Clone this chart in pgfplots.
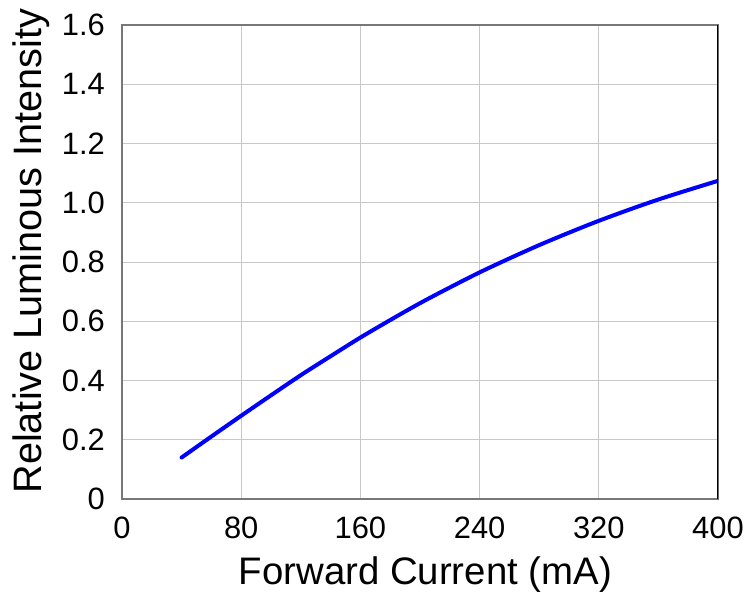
\documentclass[border=0pt]{standalone}
\usepackage{fontspec}
\setmainfont{Liberation Sans}
\usepackage{pgfplots}
\pgfplotsset{compat=1.18}

\definecolor{gridgray}{RGB}{200,200,200}
\definecolor{framegray}{RGB}{120,120,120}
\definecolor{curveblue}{RGB}{0,0,255}

\begin{document}
\begin{tikzpicture}
\begin{axis}[
  scale only axis,
  width=596bp, height=474bp,
  xmin=0, xmax=400,
  ymin=0, ymax=1.6,
  xtick={0,80,160,240,320,400},
  xticklabels={0,80,160,240,320,400},
  ytick={0,0.2,0.4,0.6,0.8,1.0,1.2,1.4,1.6},
  yticklabels={0,0.2,0.4,0.6,0.8,1.0,1.2,1.4,1.6},
  major tick length=0pt,
  grid=major,
  major grid style={gridgray, line width=0.9bp},
  axis line style={framegray, line width=1.3bp},
  tick label style={font=\fontsize{31}{36}\selectfont},
  yticklabel style={anchor=east, inner sep=0pt, xshift=-17bp},
  xticklabel style={anchor=north, inner sep=0pt, yshift=-18bp},
  xlabel={Forward Current (mA)},
  ylabel={Relative Luminous Intensity},
  xlabel style={font=\fontsize{38.5}{44}\selectfont, at={(axis description cs:0.509,0)}, anchor=base, inner sep=0pt, yshift=-85bp},
  ylabel style={font=\fontsize{39.8}{45}\selectfont, at={(axis description cs:0,0.523)}, anchor=base, inner sep=0pt, yshift=80bp},
]
\addplot[curveblue, line width=4bp, smooth, line cap=round] coordinates {
  (40,0.140) (60,0.211) (80,0.281) (100,0.350) (120,0.418) (140,0.482)
  (160,0.545) (180,0.604) (200,0.661) (220,0.714) (240,0.765) (260,0.812)
  (280,0.857) (300,0.899) (320,0.939) (340,0.976) (360,1.011) (380,1.043)
  (400,1.074)
};
\draw[black, line width=1.3bp] (rel axis cs:1,0) -- (rel axis cs:1,1);
\end{axis}
\pgfresetboundingbox
\path (-122bp,-95bp) rectangle (630bp,499bp);
\end{tikzpicture}
\end{document}
